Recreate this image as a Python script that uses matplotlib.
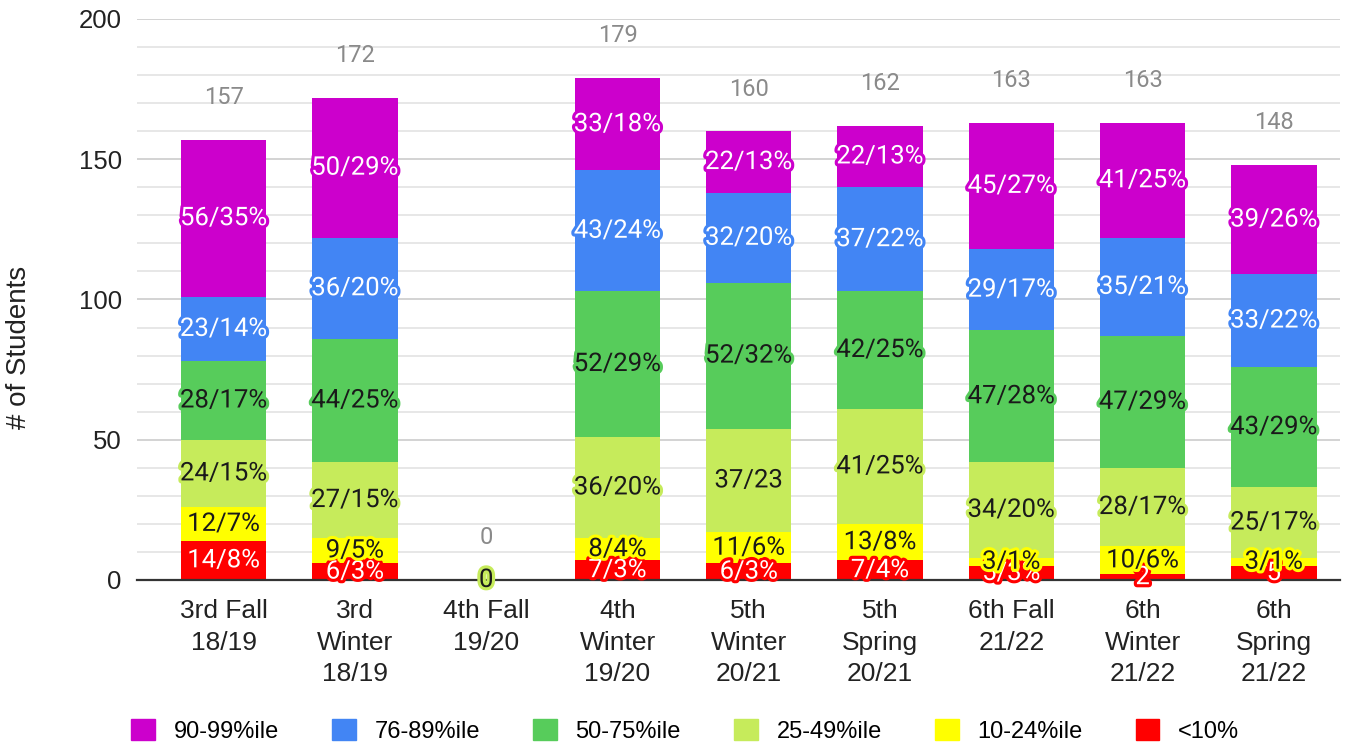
import numpy as np
import matplotlib.pyplot as plt
import matplotlib.patheffects as pe
from matplotlib.patches import Patch

plt.rcParams['font.family'] = ['Roboto', 'DejaVu Sans']

# categories
terms = ["3rd Fall\n18/19", "3rd\nWinter\n18/19", "4th Fall\n19/20", "4th\nWinter\n19/20",
         "5th\nWinter\n20/21", "5th\nSpring\n20/21", "6th Fall\n21/22", "6th\nWinter\n21/22",
         "6th\nSpring\n21/22"]

# counts per band (bottom to top)
below10 = [14, 6, 0, 7, 6, 7, 5, 2, 5]
p10_24 = [12, 9, 0, 8, 11, 13, 3, 10, 3]
p25_49 = [24, 27, 0, 36, 37, 41, 34, 28, 25]
p50_75 = [28, 44, 0, 52, 52, 42, 47, 47, 43]
p76_89 = [23, 36, 0, 43, 32, 37, 29, 35, 33]
p90_99 = [56, 50, 0, 33, 22, 22, 45, 41, 39]

# segment labels as shown on the chart
lab_below10 = ["14/8%", "6/3%", "", "7/3%", "6/3%", "7/4%", "5/3%", "2", "5"]
lab_10_24 = ["12/7%", "9/5%", "", "8/4%", "11/6%", "13/8%", "3/1%", "10/6%", "3/1%"]
lab_25_49 = ["24/15%", "27/15%", "0", "36/20%", "37/23", "41/25%", "34/20%", "28/17%", "25/17%"]
lab_50_75 = ["28/17%", "44/25%", "", "52/29%", "52/32%", "42/25%", "47/28%", "47/29%", "43/29%"]
lab_76_89 = ["23/14%", "36/20%", "", "43/24%", "32/20%", "37/22%", "29/17%", "35/21%", "33/22%"]
lab_90_99 = ["56/35%", "50/29%", "", "33/18%", "22/13%", "22/13%", "45/27%", "41/25%", "39/26%"]

series = [
    ("<10%", below10, lab_below10, "#ff0000", "white"),
    ("10-24%ile", p10_24, lab_10_24, "#ffff00", "#1a1a1a"),
    ("25-49%ile", p25_49, lab_25_49, "#c6eb5b", "#1a1a1a"),
    ("50-75%ile", p50_75, lab_50_75, "#57cc5b", "#1a1a1a"),
    ("76-89%ile", p76_89, lab_76_89, "#4285f4", "white"),
    ("90-99%ile", p90_99, lab_90_99, "#cc00cc", "white"),
]
arial = ['Liberation Sans', 'DejaVu Sans']

fig = plt.figure(figsize=(13.49, 7.45), dpi=100)
ax = fig.add_axes([0.1016, 0.2215, 0.8914, 0.753])

x = np.arange(len(terms))
bottom = np.zeros(len(terms))
for name, vals, labs, col, tcol in series:
    vals = np.array(vals, dtype=float)
    ax.bar(x, vals, 0.65, bottom=bottom, color=col, zorder=2)
    bottom = bottom + vals

# labels drawn after all bars so they sit on top
bottom = np.zeros(len(terms))
for name, vals, labs, col, tcol in series:
    vals = np.array(vals, dtype=float)
    for i in range(len(terms)):
        if labs[i]:
            ax.text(x[i], bottom[i] + vals[i] / 2, labs[i], ha='center', va='center',
                    fontsize=18.5, color=tcol, zorder=5,
                    path_effects=[pe.withStroke(linewidth=4.5, foreground=col)])
    bottom = bottom + vals

totals = bottom
for i in range(len(terms)):
    ax.text(x[i], totals[i] + 15, f"{int(totals[i])}", ha='center', va='center',
            fontsize=17, color='#8a8a8a', zorder=5)

ax.set_ylim(0, 200)
ax.set_xlim(-0.66, 8.5)
ax.set_yticks([0, 50, 100, 150, 200])
ax.set_yticks(np.arange(0, 201, 10), minor=True)
ax.grid(axis='y', which='major', color='#cccccc', lw=1.2, zorder=0)
ax.grid(axis='y', which='minor', color='#e3e3e3', lw=1.2, zorder=0)
ax.set_axisbelow(True)
ax.tick_params(axis='y', which='both', length=0, labelsize=18.5, colors='#222222', pad=11)
ax.tick_params(axis='x', length=0, labelsize=19, colors='#222222', pad=14)
for t in ax.get_yticklabels():
    t.set_family(arial)
ax.set_xticks(x)
ax.set_xticklabels(terms, linespacing=1.38, family=arial)
for s in ['top', 'right', 'left']:
    ax.spines[s].set_visible(False)
ax.spines['bottom'].set_color('#333333')
ax.spines['bottom'].set_linewidth(1.6)
ax.spines['bottom'].set_zorder(3)
ax.set_ylabel("# of Students", fontsize=20, color='#222222', family=arial)
ax.yaxis.set_label_coords(-0.087, 0.415)

handles = [Patch(color=col, label=name) for name, vals, labs, col, tcol in series[::-1]]
fig.legend(handles=handles, loc='center', bbox_to_anchor=(0.508, 0.019), ncol=6,
           frameon=False, prop={'family': arial, 'size': 17}, borderpad=0,
           handlelength=1.0, handleheight=1.0, columnspacing=2.25, handletextpad=0.8)

fig.savefig("out.png", dpi=100)
